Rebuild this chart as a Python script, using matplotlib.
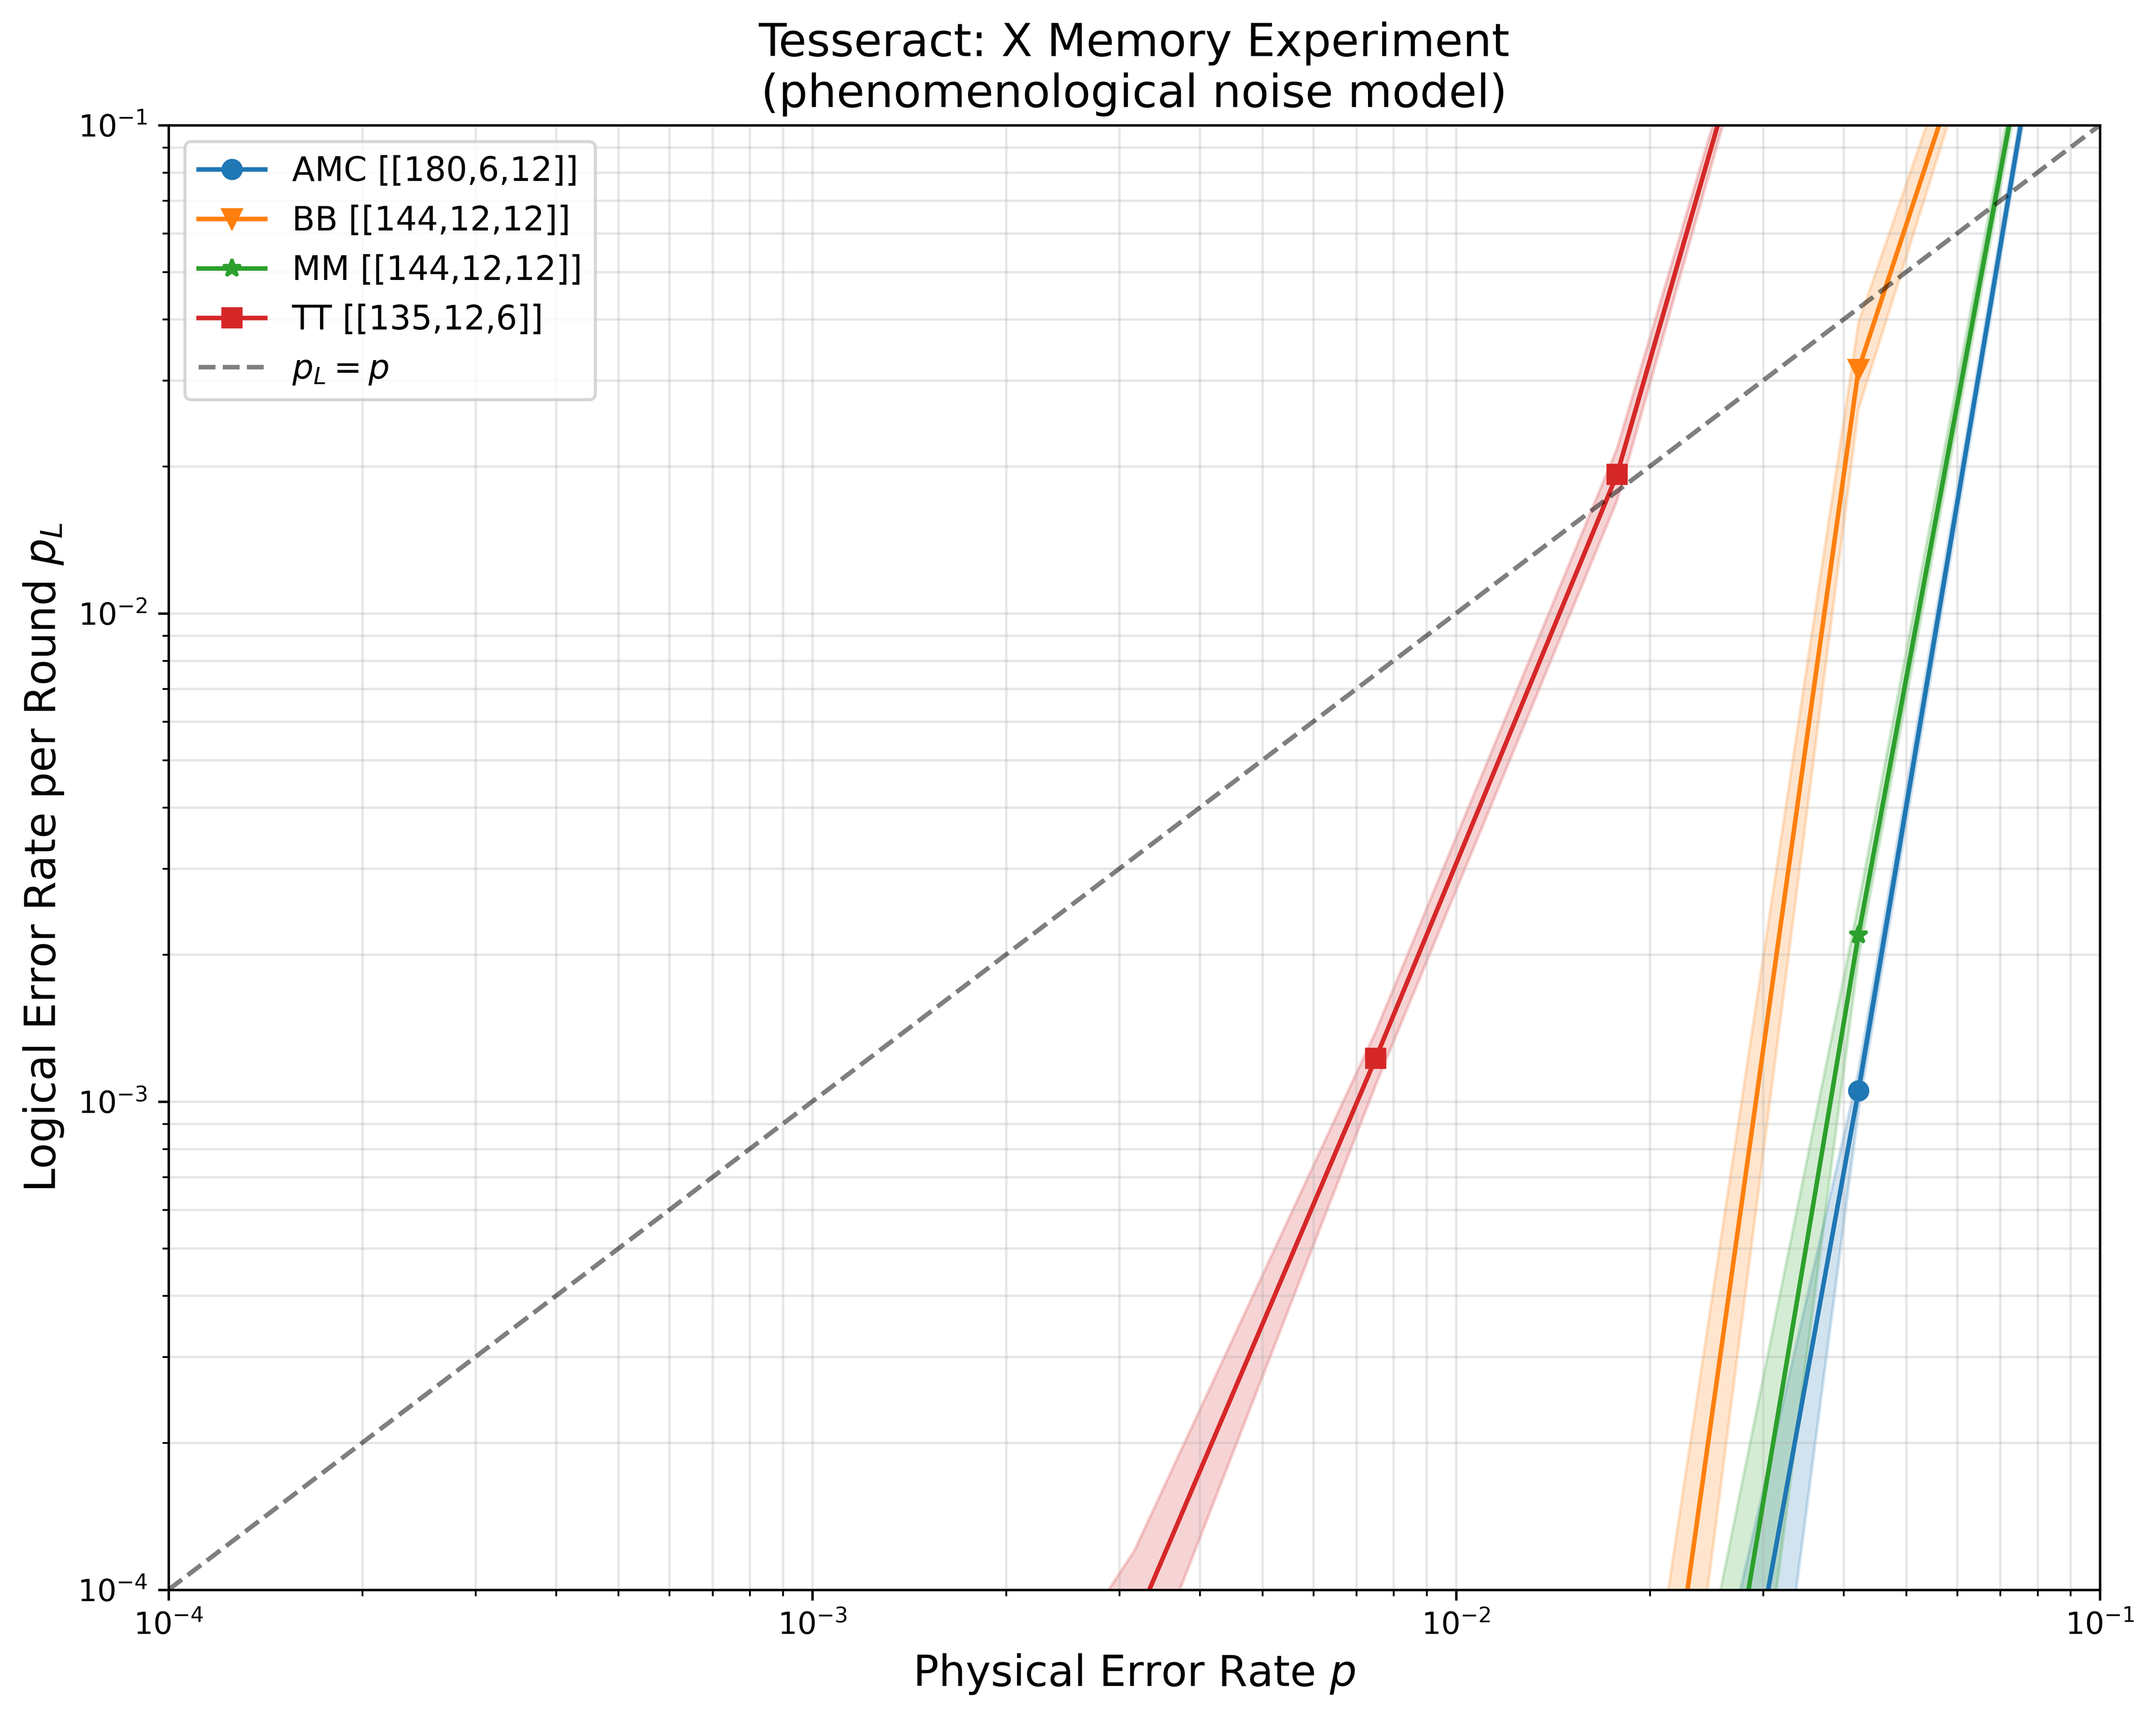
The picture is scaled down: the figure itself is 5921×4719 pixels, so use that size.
import matplotlib
matplotlib.use("Agg")
import matplotlib.pyplot as plt

# Physical error rates (sampling grid)
p = [1.0e-4, 2.371e-4, 5.623e-4, 1.334e-3, 3.162e-3, 7.499e-3, 1.778e-2, 4.217e-2, 1.0e-1]

labels = ["AMC [[180,6,12]]", "BB [[144,12,12]]", "MM [[144,12,12]]", "TT [[135,12,6]]"]
markers = ["o", "v", "*", "s"]
colors = ["#1f77b4", "#ff7f0e", "#2ca02c", "#d62728"]

# Logical error rate per round (center, lower, upper)
amc = [1e-26, 1e-23, 1e-20, 1e-17, 1e-14, 1e-10, 1.95e-6, 1.052e-3, 0.925]
amc_lo = [1e-28, 1e-25, 1e-22, 1e-19, 1e-16, 1e-12, 1.51e-7, 9.59e-4, 0.89]
amc_hi = [1e-24, 1e-21, 1e-18, 1e-15, 1e-12, 1e-9, 7.76e-6, 1.153e-3, 0.96]

bb = [1e-26, 3e-23, 1e-19, 3e-16, 1e-12, 3e-9, 9.33e-6, 3.155e-2, 1.0]
bb_lo = [1e-28, 3e-25, 1e-21, 3e-18, 1e-14, 3e-10, 3.55e-6, 2.62e-2, 0.98]
bb_hi = [1e-24, 3e-21, 1e-17, 3e-14, 1e-10, 3e-8, 2.0e-5, 3.94e-2, 1.07]

mm = [1e-26, 1e-23, 1e-20, 1e-17, 1e-14, 1e-10, 2.49e-6, 2.194e-3, 1.0]
mm_lo = [1e-28, 1e-25, 1e-22, 1e-19, 1e-16, 1e-12, 3.05e-7, 1.97e-3, 0.95]
mm_hi = [1e-24, 1e-21, 1e-18, 1e-15, 1e-12, 1e-9, 8.81e-6, 2.54e-3, 1.05]

tt = [3.2e-9, 4.0e-8, 5.0e-7, 6.3e-6, 8.45e-5, 1.225e-3, 1.925e-2, 1.0, 1.0]
tt_lo = [1.0e-9, 1.3e-8, 1.6e-7, 1.58e-6, 5.74e-5, 1.08e-3, 1.70e-2, 0.97, 0.98]
tt_hi = [1.0e-8, 1.26e-7, 1.6e-6, 2.14e-5, 1.20e-4, 1.39e-3, 2.175e-2, 1.02, 1.02]

series = [(amc, amc_lo, amc_hi), (bb, bb_lo, bb_hi), (mm, mm_lo, mm_hi), (tt, tt_lo, tt_hi)]

W, H = 5921, 4719
dpi = 600
fig = plt.figure(figsize=(W / dpi, H / dpi), dpi=dpi)
ax = fig.add_axes([462.5 / W, (H - 4366.7) / H, (5767 - 462.5) / W, (4366.7 - 343.6) / H])

for (c, lo, hi), lab, mk, col in zip(series, labels, markers, colors):
    ax.plot(p, c, marker=mk, color=col, label=lab, lw=1.5)
    ax.fill_between(p, lo, hi, color=col, alpha=0.2)

ax.plot([1e-4, 1e-1], [1e-4, 1e-1], "k--", alpha=0.5, lw=1.5, label=r"$p_L = p$")

ax.set_xscale("log")
ax.set_yscale("log")
ax.set_xlim(1e-4, 1e-1)
ax.set_ylim(1e-4, 1e-1)
ax.grid(True, which="both", alpha=0.3)
ax.set_xlabel(r"Physical Error Rate $p$", fontsize=14)
ax.set_ylabel(r"Logical Error Rate per Round $p_L$", fontsize=14)
ax.set_title("Tesseract: X Memory Experiment\n(phenomenological noise model)", fontsize=15)
ax.legend(loc="upper left", fontsize=11)

fig.savefig("out.png", dpi=dpi)
